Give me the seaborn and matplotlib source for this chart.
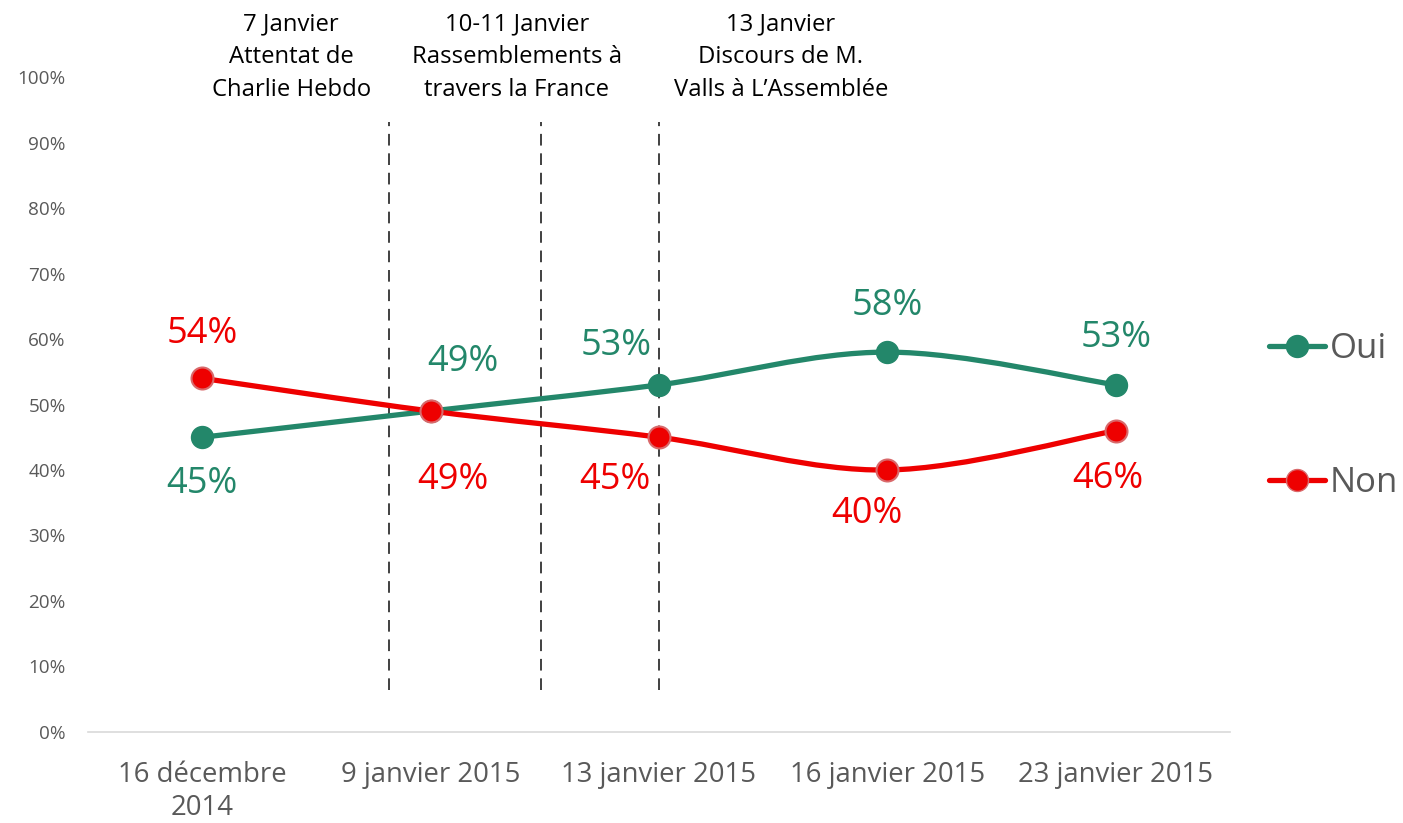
import numpy as np
import pandas as pd
import matplotlib
matplotlib.use('Agg')
import matplotlib.pyplot as plt
from matplotlib.path import Path
from matplotlib.patches import PathPatch
from matplotlib.lines import Line2D
import seaborn as sns

# données
dates = ['16 décembre\n2014', '9 janvier 2015', '13 janvier 2015',
         '16 janvier 2015', '23 janvier 2015']
oui = [45, 49, 53, 58, 53]
non = [54, 49, 45, 40, 46]
series_names = ['Oui', 'Non']

events = ['7 Janvier\nAttentat de\nCharlie Hebdo',
          '10-11 Janvier\nRassemblements à\ntravers la France',
          '13 Janvier\nDiscours de M.\nValls à L\u2019Assemblée']

# styles / positions
green = '#23876A'
red = '#EE0000'
grey = '#595959'
event_x = [0.39, 1.378, 2.534]
vline_x = [0.818, 1.484, 2.0]
# décalages des étiquettes (points)
oui_off = [(0, -34), (23, 35), (-31, 28), (0, 33), (0, 34)]
non_off = [(0, 32), (16, -50), (-32, -31), (-15, -32), (-6, -35)]

sns.set_style('white')
plt.rcParams['font.family'] = ['Open Sans', 'DejaVu Sans']

df = pd.DataFrame({
    'x': list(range(len(dates))) * 2,
    'val': oui + non,
    'serie': ['Oui'] * len(oui) + ['Non'] * len(non),
})

fig = plt.figure(figsize=(14.03, 8.23), dpi=100)
ax = fig.add_axes([0.0627, 0.1106, 0.814, 0.7958])


def smooth_path(xs, ys):
    # courbe lissée façon Excel (Bézier)
    pts = np.column_stack([xs, ys]).astype(float)
    n = len(pts)
    verts = [pts[0]]
    codes = [Path.MOVETO]
    for i in range(n - 1):
        p0 = pts[max(i - 1, 0)]
        p1 = pts[i]
        p2 = pts[i + 1]
        p3 = pts[min(i + 2, n - 1)]
        c1 = p1 + (p2 - p0) / 6
        c2 = p2 - (p3 - p1) / 6
        verts += [c1, c2, p2]
        codes += [Path.CURVE4] * 3
    return Path(verts, codes)


xs = np.arange(len(dates))
for vals, col in [(oui, green), (non, red)]:
    ax.add_patch(PathPatch(smooth_path(xs, vals), fill=False, edgecolor=col,
                           lw=3.8, capstyle='round', zorder=3))

sns.scatterplot(data=df[df.serie == 'Oui'], x='x', y='val', color=green,
                s=250, edgecolor=green, linewidth=1, ax=ax, zorder=4, legend=False)
sns.scatterplot(data=df[df.serie == 'Non'], x='x', y='val', color=red,
                s=250, edgecolor='#D9696B', linewidth=1.5, ax=ax, zorder=5, legend=False)

for i in range(len(dates)):
    ax.annotate(f'{oui[i]}%', (i, oui[i]), xytext=oui_off[i], textcoords='offset points',
                ha='center', va='center', fontsize=26, color=green)
    ax.annotate(f'{non[i]}%', (i, non[i]), xytext=non_off[i], textcoords='offset points',
                ha='center', va='center', fontsize=26, color=red)

for vx in vline_x:
    ax.plot([vx, vx], [6.4, 93.1], color='#404040', lw=1.4, ls=(0, (6, 4)), zorder=2)

for ex, txt in zip(event_x, events):
    ax.text(ex, 1.0305, txt, transform=ax.get_xaxis_transform(), ha='center',
            va='center', fontsize=17.2, linespacing=1.5, color='black')

ax.set_xlim(-0.5, 4.5)
ax.set_ylim(0, 100)
ax.set_yticks(range(0, 101, 10))
ax.set_yticklabels([f'{v}%' for v in range(0, 101, 10)])
ax.set_xticks(xs)
ax.set_xticklabels(dates, linespacing=1.25)
ax.tick_params(axis='y', length=0, pad=16, labelsize=13.6, labelcolor=grey)
ax.tick_params(axis='x', length=0, pad=21, labelsize=19.8, labelcolor=grey)
ax.set_xlabel('')
ax.set_ylabel('')
for s in ['top', 'right', 'left']:
    ax.spines[s].set_visible(False)
ax.spines['bottom'].set_color('#D9D9D9')
ax.spines['bottom'].set_linewidth(1.2)

handles = [Line2D([], [], color=green, lw=3.8, marker='o', markersize=15.8,
                  markeredgecolor=green, solid_capstyle='round'),
           Line2D([], [], color=red, lw=3.8, marker='o', markersize=15.8,
                  markeredgecolor='#D9696B', solid_capstyle='round')]
leg = fig.legend(handles, series_names, loc='center left',
                 bbox_to_anchor=(1269 / 1403, (823 - 416) / 823), frameon=False,
                 fontsize=25, labelspacing=2.9, handlelength=1.6, handletextpad=0.15,
                 borderaxespad=0, borderpad=0)
for t in leg.get_texts():
    t.set_color(grey)

fig.savefig('out.png', dpi=100)
